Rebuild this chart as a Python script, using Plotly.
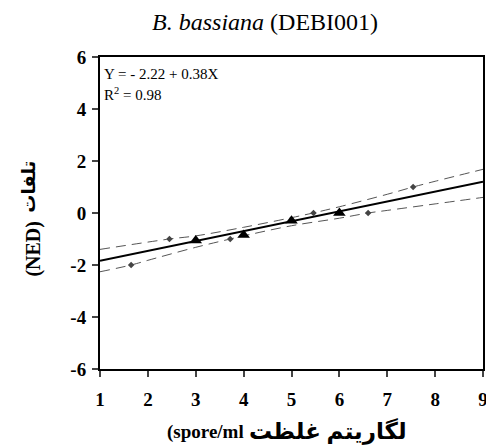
import plotly.graph_objects as go

# Observed (triangles) points
tri_x = [3, 4, 5, 6]
tri_y = [-1.06, -0.85, -0.30, 0.0]

# Small diamond points
dia_x = [1.65, 2.45, 3.72, 5.46, 6.6, 7.54]
dia_y = [-2.0, -1.0, -1.0, 0.0, 0.0, 1.0]

# Regression: Y = -2.22 + 0.38X
intercept = -2.22
slope = 0.38
reg_x = [1, 9]

# Confidence band lines
up_x = [1, 2.45, 3, 4, 5, 5.45, 6, 7, 7.54, 8, 9]
up_y = [-1.40, -1.00, -0.88, -0.55, -0.18, 0.0, 0.24, 0.72, 1.0, 1.22, 1.68]
lo_x = [1, 1.65, 2, 3, 3.72, 4, 5, 6, 6.6, 7, 8, 9]
lo_y = [-2.26, -2.0, -1.82, -1.32, -1.0, -0.88, -0.49, -0.20, 0.0, 0.10, 0.35, 0.60]

x_ticks = [1, 2, 3, 4, 5, 6, 7, 8, 9]
y_ticks = [-6, -4, -2, 0, 2, 4, 6]

SERIF = "Liberation Serif"
FONT = "Liberation Serif, DejaVu Sans"

fig = go.Figure()
fig.add_trace(go.Scatter(x=up_x, y=up_y, mode="lines", line=dict(color="#555555", width=1, dash="10px,6px", shape="spline"), hoverinfo="skip"))
fig.add_trace(go.Scatter(x=lo_x, y=lo_y, mode="lines", line=dict(color="#555555", width=1, dash="10px,6px", shape="spline"), hoverinfo="skip"))
fig.add_trace(go.Scatter(x=reg_x, y=[intercept + slope * v for v in reg_x], mode="lines", line=dict(color="black", width=2)))
fig.add_trace(go.Scatter(x=dia_x, y=dia_y, mode="markers", marker=dict(symbol="diamond", size=5, color="#444444")))
fig.add_trace(go.Scatter(x=tri_x, y=tri_y, mode="markers", marker=dict(symbol="triangle-up", size=11, color="black")))

# the page body adds an 8px offset; the figure is sized to fill the rest of the window
fig.update_layout(
    width=486, height=438,
    margin=dict(l=92, r=6, t=49, b=77),
    plot_bgcolor="white", paper_bgcolor="white",
    showlegend=False,
    font=dict(family=FONT, color="black"),
    title=dict(text="<i>B. bassiana</i> (DEBI001)", x=0.529, xanchor="center", y=0.968, yanchor="middle",
               font=dict(size=24, family=SERIF, color="black")),
    xaxis=dict(range=[1, 9], tickvals=x_ticks, ticktext=[f"<b>{v}</b>" for v in x_ticks],
               ticks="outside", ticklen=6, tickwidth=1.5, ticklabelstandoff=6,
               showline=True, linewidth=2, linecolor="black", mirror=True, showgrid=False, zeroline=False,
               tickfont=dict(size=19, family=SERIF, color="black")),
    yaxis=dict(range=[-6, 6], tickvals=y_ticks, ticktext=[f"<b>{v}</b>" for v in y_ticks],
               ticks="outside", ticklen=6, tickwidth=1.5, ticklabelstandoff=2,
               showline=True, linewidth=2, linecolor="black", mirror=True, showgrid=False, zeroline=False,
               tickfont=dict(size=19, family=SERIF, color="black")),
)

fig.add_annotation(xref="paper", yref="paper", x=0.005, y=0.945, xanchor="left", yanchor="middle",
                   text="Y = - 2.22 + 0.38X", showarrow=False, font=dict(size=15, family=SERIF, color="black"))
fig.add_annotation(xref="paper", yref="paper", x=0.005, y=0.883, xanchor="left", yanchor="middle",
                   text="R<sup>2</sup> = 0.98", showarrow=False, font=dict(size=15, family=SERIF, color="black"))

# x axis title (two parts)
fig.add_annotation(xref="paper", yref="paper", x=0.275, y=-0.245, xanchor="center", yanchor="bottom",
                   text="<b>(spore/ml</b>", showarrow=False, font=dict(size=19, family=SERIF, color="black"))
fig.add_annotation(xref="paper", yref="paper", x=0.595, y=-0.199, xanchor="center", yanchor="middle",
                   text="<b>لگاریتم غلظت</b>", showarrow=False, font=dict(size=23, family=FONT, color="black"))
# y axis title (two parts)
fig.add_annotation(xref="paper", yref="paper", x=-0.173, y=0.385, xanchor="center", yanchor="middle", textangle=-90,
                   text="<b>(NED)</b>", showarrow=False, font=dict(size=20, family=SERIF, color="black"))
fig.add_annotation(xref="paper", yref="paper", x=-0.185, y=0.585, xanchor="center", yanchor="middle", textangle=-90,
                   text="<b>تلفات</b>", showarrow=False, font=dict(size=18, family=FONT, color="black"))

fig.write_html("out.html")
